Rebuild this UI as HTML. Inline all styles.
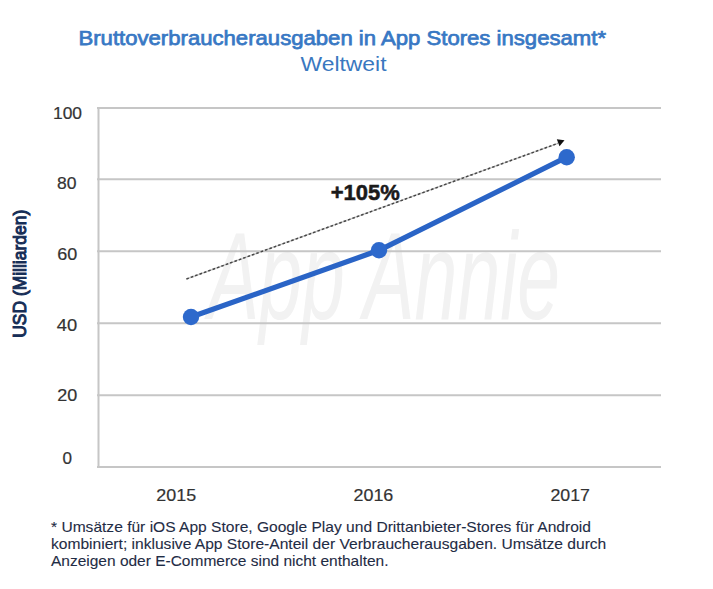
<!DOCTYPE html>
<html><head><meta charset="utf-8">
<style>
html,body{margin:0;padding:0;background:#fff;}
body{width:713px;height:589px;overflow:hidden;}
svg{display:block;}
text{font-family:"Liberation Sans",sans-serif;}
</style></head>
<body>
<svg width="713" height="589" viewBox="0 0 713 589" xmlns="http://www.w3.org/2000/svg">
<rect width="713" height="589" fill="#fff"/>
<!-- watermark -->
<text x="208" y="319" font-size="125" font-style="italic" fill="#f2f2f2" textLength="352" lengthAdjust="spacingAndGlyphs">App Annie</text>
<!-- title -->
<text x="78.5" y="45.2" font-size="21" font-weight="normal" fill="#3878c4" stroke="#3878c4" stroke-width="0.75" textLength="527.5" lengthAdjust="spacingAndGlyphs">Bruttoverbraucherausgaben in App Stores insgesamt*</text>
<text x="300.5" y="71.1" font-size="20.3" fill="#3a78c0" textLength="86" lengthAdjust="spacingAndGlyphs">Weltweit</text>
<!-- gridlines -->
<g stroke="#c6c6c6" stroke-width="2" fill="none">
<line x1="97" y1="108" x2="661" y2="108"/>
<line x1="97" y1="179.3" x2="661" y2="179.3"/>
<line x1="97" y1="251.2" x2="661" y2="251.2"/>
<line x1="97" y1="323.2" x2="661" y2="323.2"/>
<line x1="97" y1="395.2" x2="661" y2="395.2"/>
<line x1="97" y1="467" x2="661" y2="467"/>
<line x1="98.5" y1="107" x2="98.5" y2="468"/>
</g>
<!-- y labels -->
<g font-size="16.5" fill="#333" stroke="#333" stroke-width="0.2">
<text x="53" y="118.6" textLength="29" lengthAdjust="spacingAndGlyphs">100</text>
<text x="57" y="189.3" textLength="19.5" lengthAdjust="spacingAndGlyphs">80</text>
<text x="57.2" y="259.5" textLength="20" lengthAdjust="spacingAndGlyphs">60</text>
<text x="56.7" y="330.7" textLength="20.4" lengthAdjust="spacingAndGlyphs">40</text>
<text x="57.2" y="401.3" textLength="20" lengthAdjust="spacingAndGlyphs">20</text>
<text x="62.4" y="463.8" textLength="9.5" lengthAdjust="spacingAndGlyphs">0</text>
</g>
<!-- x labels -->
<g font-size="17" fill="#333" stroke="#333" stroke-width="0.2">
<text x="156.3" y="500.8" textLength="39.8" lengthAdjust="spacingAndGlyphs">2015</text>
<text x="353.5" y="500.8" textLength="39.8" lengthAdjust="spacingAndGlyphs">2016</text>
<text x="550.5" y="500.8" textLength="39.5" lengthAdjust="spacingAndGlyphs">2017</text>
</g>
<!-- y title -->
<text transform="translate(25.8,273.8) rotate(-90)" text-anchor="middle" font-size="17.5" font-weight="normal" fill="#172e57" stroke="#172e57" stroke-width="1.0" textLength="128" lengthAdjust="spacingAndGlyphs">USD (Milliarden)</text>
<!-- dashed trend -->
<line x1="186.4" y1="279" x2="558" y2="143.3" stroke="#c8c8c8" stroke-width="1.4"/>
<line x1="186.4" y1="279" x2="558" y2="143.3" stroke="#474747" stroke-width="1.5" stroke-dasharray="2.6 2.05"/>
<polygon points="564.5,140.3 556.8,139.3 559.5,146.2" fill="#111"/>
<text x="330.7" y="200.3" font-size="21.3" font-weight="bold" fill="#1a1a1a" stroke="#1a1a1a" stroke-width="0.5" textLength="69" lengthAdjust="spacingAndGlyphs">+105%</text>
<!-- data line -->
<polyline points="191,317 379,250.3 566.7,157.2" fill="none" stroke="#2a64c6" stroke-width="5.2" stroke-linejoin="round"/>
<g fill="#2d69cc">
<circle cx="191" cy="317" r="8.2"/>
<circle cx="379" cy="250.3" r="8.2"/>
<circle cx="566.7" cy="157.2" r="8.2"/>
</g>
<!-- footnote -->
<g font-size="14.5" fill="#1f2c45" stroke="#1f2c45" stroke-width="0.1">
<text x="51" y="531.9" textLength="540" lengthAdjust="spacingAndGlyphs">* Umsätze für iOS App Store, Google Play und Drittanbieter-Stores für Android</text>
<text x="51" y="549.2" textLength="555.3" lengthAdjust="spacingAndGlyphs">kombiniert; inklusive App Store-Anteil der Verbraucherausgaben. Umsätze durch</text>
<text x="51" y="566.4" textLength="337.5" lengthAdjust="spacingAndGlyphs">Anzeigen oder E-Commerce sind nicht enthalten.</text>
</g>
</svg>
</body></html>
